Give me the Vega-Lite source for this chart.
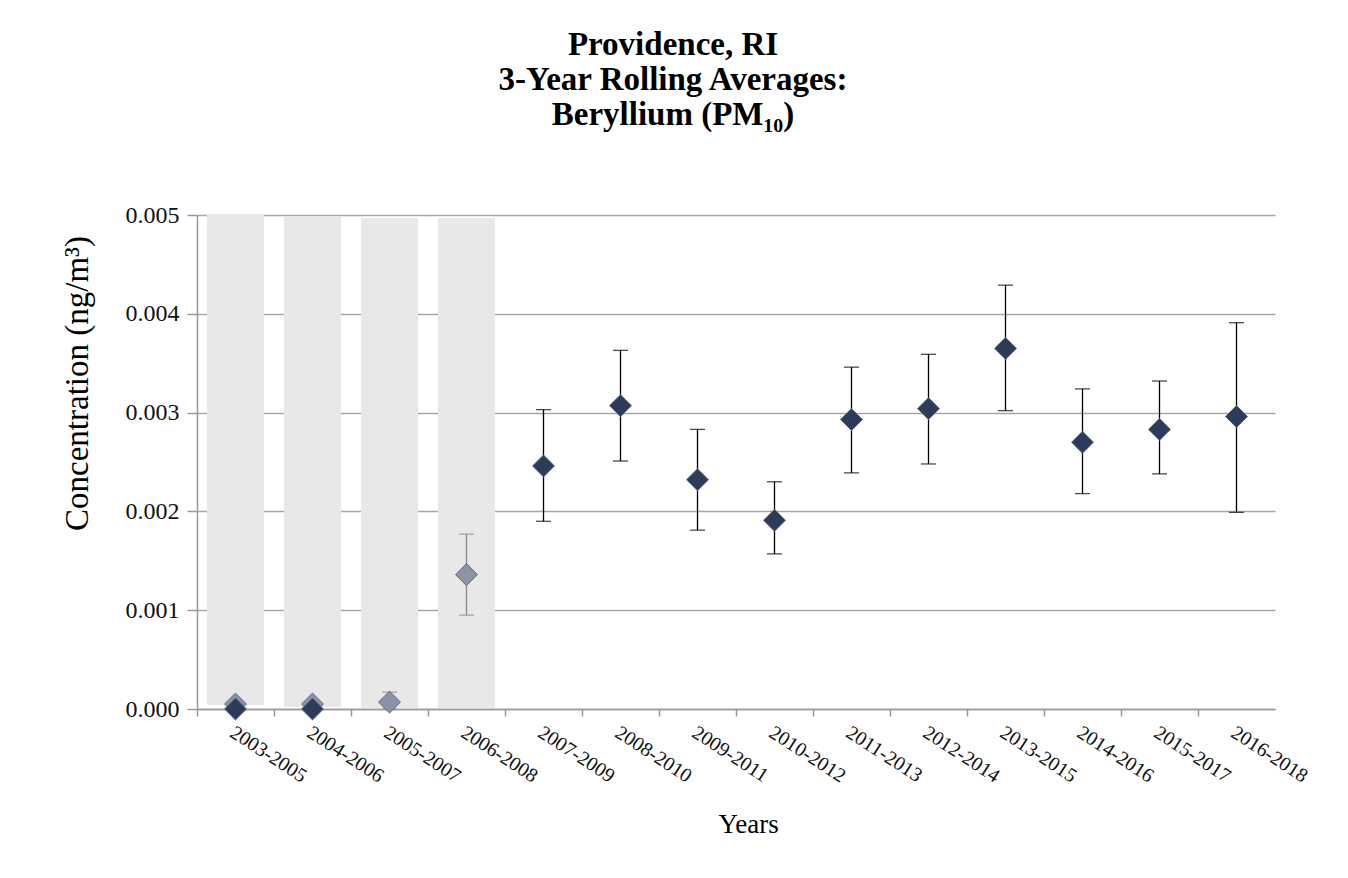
{
  "$schema": "https://vega.github.io/schema/vega-lite/v6.json",
  "width": 1078,
  "height": 494,
  "autosize": {"type": "none"},
  "padding": {"left": 197, "top": 215, "right": 73, "bottom": 169},
  "background": "white",
  "title": {
    "text": ["Providence, RI", "3-Year Rolling Averages:", "Beryllium (PM₁₀)"],
    "font": "Liberation Serif",
    "fontSize": 33,
    "fontWeight": "bold",
    "color": "#000000",
    "lineHeight": 35,
    "anchor": "middle",
    "frame": "group",
    "dx": -63,
    "offset": 71
  },
  "datasets": {
    "bars": [
      {"period": "2003-2005", "top": 0.005, "bottom": 0.00004},
      {"period": "2004-2006", "top": 0.00498, "bottom": 0.00002},
      {"period": "2005-2007", "top": 0.00497, "bottom": 0.00001},
      {"period": "2006-2008", "top": 0.00497, "bottom": 0.00001}
    ],
    "points": [
      {"period": "2003-2005", "value": 0.00005, "lo": null, "hi": null, "status": "invalid"},
      {"period": "2004-2006", "value": 0.00005, "lo": null, "hi": null, "status": "invalid"},
      {"period": "2005-2007", "value": 0.00007, "lo": 0.0, "hi": 0.00017, "status": "invalid"},
      {"period": "2006-2008", "value": 0.00136, "lo": 0.00095, "hi": 0.00177, "status": "invalid"},
      {"period": "2003-2005", "value": 0.0, "lo": null, "hi": null, "status": "valid"},
      {"period": "2004-2006", "value": 0.0, "lo": null, "hi": null, "status": "valid"},
      {"period": "2007-2009", "value": 0.00246, "lo": 0.0019, "hi": 0.00303, "status": "valid"},
      {"period": "2008-2010", "value": 0.00307, "lo": 0.00251, "hi": 0.00363, "status": "valid"},
      {"period": "2009-2011", "value": 0.00232, "lo": 0.00181, "hi": 0.00283, "status": "valid"},
      {"period": "2010-2012", "value": 0.00191, "lo": 0.00157, "hi": 0.0023, "status": "valid"},
      {"period": "2011-2013", "value": 0.00293, "lo": 0.00239, "hi": 0.00346, "status": "valid"},
      {"period": "2012-2014", "value": 0.00304, "lo": 0.00248, "hi": 0.00359, "status": "valid"},
      {"period": "2013-2015", "value": 0.00365, "lo": 0.00302, "hi": 0.00429, "status": "valid"},
      {"period": "2014-2016", "value": 0.0027, "lo": 0.00218, "hi": 0.00324, "status": "valid"},
      {"period": "2015-2017", "value": 0.00283, "lo": 0.00238, "hi": 0.00332, "status": "valid"},
      {"period": "2016-2018", "value": 0.00296, "lo": 0.00199, "hi": 0.00391, "status": "valid"}
    ]
  },
  "encoding": {
    "x": {
      "field": "period",
      "type": "nominal",
      "sort": null,
      "scale": {
        "type": "band",
        "paddingInner": 0,
        "paddingOuter": 0,
        "domain": ["2003-2005","2004-2006","2005-2007","2006-2008","2007-2009","2008-2010","2009-2011","2010-2012","2011-2013","2012-2014","2013-2015","2014-2016","2015-2017","2016-2018"]
      },
      "axis": {
        "title": "Years",
        "titleFont": "Liberation Serif",
        "titleFontSize": 27,
        "titleFontWeight": "normal",
        "titleColor": "#000000",
        "titlePadding": 26,
        "titleX": 551,
        "labelFont": "Liberation Serif",
        "labelFontSize": 20,
        "labelColor": "#111111",
        "labelAngle": 33,
        "labelAlign": "left",
        "labelBaseline": "top",
        "labelPadding": 6,
        "labelOffset": 2,
        "bandPosition": 0,
        "domainColor": "#999999",
        "domainWidth": 1.5,
        "tickColor": "#999999",
        "tickSize": 7,
        "tickWidth": 1.5,
        "grid": false
      }
    }
  },
  "layer": [
    {
      "data": {"name": "bars"},
      "mark": {"type": "bar", "color": "#E8E8E8", "width": {"band": 0.74}},
      "encoding": {
        "y": {
          "field": "top",
          "type": "quantitative",
          "scale": {"domain": [0, 0.005], "nice": false, "zero": true},
          "axis": {
            "title": "Concentration (ng/m³)",
            "titleFont": "Liberation Serif",
            "titleFontSize": 33,
            "titleFontWeight": "normal",
            "titleColor": "#000000",
            "titleAngle": -90,
            "titleAlign": "center",
            "titleBaseline": "alphabetic",
            "titleX": -110,
            "titleY": 168,
            "labelFont": "Liberation Serif",
            "labelFontSize": 24,
            "labelColor": "#111111",
            "labelPadding": 8,
            "values": [0, 0.001, 0.002, 0.003, 0.004, 0.005],
            "format": ".3f",
            "domainColor": "#999999",
            "domainWidth": 1.5,
            "tickColor": "#999999",
            "tickSize": 10,
            "tickWidth": 1.5,
            "grid": true,
            "gridColor": "#A6A6A6",
            "gridWidth": 1.5
          }
        },
        "y2": {"field": "bottom"}
      }
    },
    {
      "data": {"name": "points"},
      "transform": [{"filter": "datum.lo != null"}],
      "mark": {"type": "rule", "strokeWidth": 1.3},
      "encoding": {
        "y": {"field": "lo", "type": "quantitative"},
        "y2": {"field": "hi"},
        "color": {
          "field": "status",
          "type": "nominal",
          "scale": {"domain": ["invalid", "valid"], "range": ["#8A8A8A", "#000000"]},
          "legend": null
        }
      }
    },
    {
      "data": {"name": "points"},
      "transform": [{"filter": "datum.lo != null"}],
      "mark": {"type": "tick", "size": 15, "thickness": 1.3, "orient": "horizontal"},
      "encoding": {
        "y": {"field": "lo", "type": "quantitative"},
        "color": {"field": "status", "type": "nominal", "legend": null}
      }
    },
    {
      "data": {"name": "points"},
      "transform": [{"filter": "datum.hi != null"}],
      "mark": {"type": "tick", "size": 15, "thickness": 1.3, "orient": "horizontal"},
      "encoding": {
        "y": {"field": "hi", "type": "quantitative"},
        "color": {"field": "status", "type": "nominal", "legend": null}
      }
    },
    {
      "data": {"name": "points"},
      "mark": {"type": "point", "shape": "diamond", "filled": true, "size": 480, "stroke": "#5A6985", "strokeWidth": 1, "opacity": 1},
      "encoding": {
        "y": {"field": "value", "type": "quantitative"},
        "fill": {
          "field": "status",
          "type": "nominal",
          "scale": {"domain": ["invalid", "valid"], "range": ["#8C94A3", "#2B3B58"]},
          "legend": null
        }
      }
    }
  ],
  "config": {
    "view": {"stroke": null}
  }
}
